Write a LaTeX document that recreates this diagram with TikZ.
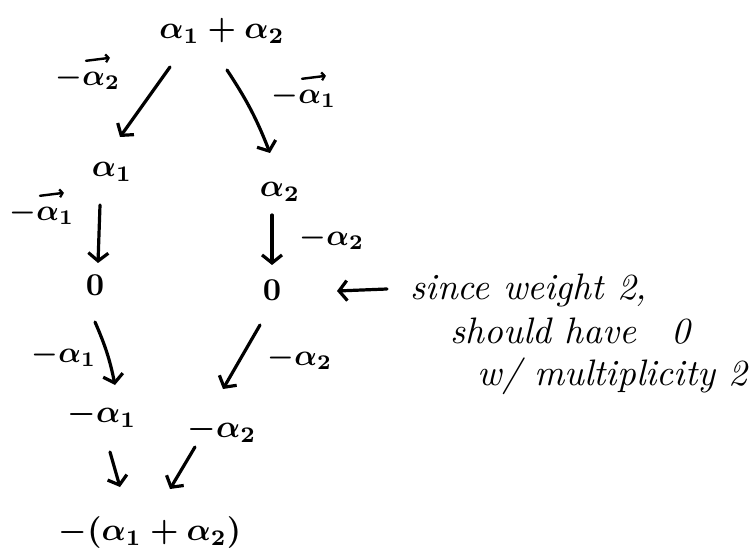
\documentclass[tikz,border=0pt]{standalone}
\usepackage{amsmath}
\usetikzlibrary{arrows.meta,calc}
\tikzset{
  wt/.style={inner sep=0.3pt, scale=3.2, font=\boldmath},
  lab/.style={inner sep=0.3pt, scale=3.0, font=\boldmath},
  note/.style={inner sep=0pt, anchor=base west, scale=3.7, font=\itshape},
  conn/.style={line width=3.2bp, line cap=round, -{Straight Barb[length=8bp,width=20bp,line width=3.2bp]}},
  vecarrow/.style={line width=2.4bp, line cap=round, -{Straight Barb[length=3bp,width=8bp,line width=2.2bp]}}
}
\begin{document}
\begin{tikzpicture}[x=1bp,y=-1bp]
\useasboundingbox (0,0) rectangle (753,554);
% weights
\node[wt] (top) at (222,31) {$\alpha_1+\alpha_2$};
\node[wt] (a1)  at (112,172) {$\alpha_1$};
\node[wt] (a2)  at (280,192) {$\alpha_2$};
\node[wt] (z1)  at (95,285) {$0$};
\node[wt] (z2)  at (272,290) {$0$};
\node[wt] (m1)  at (102,415) {$-\alpha_1$};
\node[wt] (m2)  at (222,430) {$-\alpha_2$};
\node[wt] (bot) at (150,533) {$-(\alpha_1+\alpha_2)$};
% edge labels
\node[lab] (l1) at (88,78)  {$-\alpha_2$};
\node[lab] (l2) at (304,96) {$-\alpha_1$};
\node[lab] (l3) at (42,213) {$-\alpha_1$};
\node[lab] (l4) at (332,238) {$-\alpha_2$};
\node[lab] (l5) at (64,355) {$-\alpha_1$};
\node[lab] (l6) at (300,358) {$-\alpha_2$};
% vector arrows over the labels
\draw[vecarrow] ($(l1.north)+(-2,-4)$) -- ($(l1.north)+(22,-7)$);
\draw[vecarrow] ($(l2.north)+(-2,-4)$) -- ($(l2.north)+(22,-7)$);
\draw[vecarrow] ($(l3.north)+(-2,-4)$) -- ($(l3.north)+(22,-7)$);
% connectors
\draw[conn] ($(top)+(-52,36)$) -- ($(a1)+(8,-35)$);
\draw[conn] ($(top)+(5,39)$) to[bend left=6] ($(a2)+(-10,-39)$);
\draw[conn] ($(a1)+(-12,33)$) -- ($(z1)+(3,-22)$);
\draw[conn] ($(a2)+(-8,23)$) -- ($(z2)+(0,-25)$);
\draw[conn] ($(z1)+(0,37)$) to[bend left=6] ($(m1)+(13,-30)$);
\draw[conn] ($(z2)+(-12,35)$) -- ($(m2)+(1,-41)$);
\draw[conn] ($(m1)+(8,37)$) -- ($(bot)+(-30,-46)$);
\draw[conn] ($(m2)+(-27,17)$) -- ($(bot)+(20,-44)$);
% annotation
\node[note] (n1) at (410,300) {since weight 2,};
\node[note] (n2) at (450,343) {should have\hspace{0.6em} 0};
\node[note] (n3) at (477,385) {w/ multiplicity 2};
\draw[conn] ($(n1.base west)+(-23,-11)$) -- ($(z2)+(65,1)$);
\end{tikzpicture}
\end{document}
